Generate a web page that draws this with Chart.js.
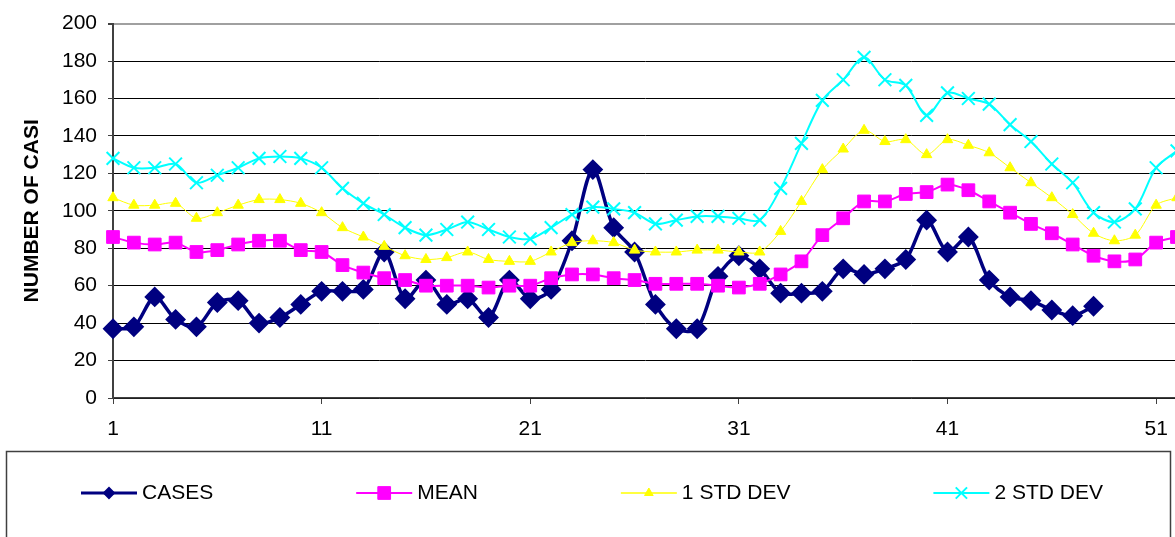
<!DOCTYPE html>
<html>
<head>
<meta charset="utf-8">
<script src="https://cdn.jsdelivr.net/npm/chart.js@4"></script>
<style>
  html, body { margin: 0; padding: 0; background: #fff; overflow: hidden; }
  canvas { display: block; }
</style>
</head>
<body>
<canvas id="myChart" width="1190" height="537"></canvas>
<script>
const weeks = ['1','2','3','4','5','6','7','8','9','10','11','12','13','14','15','16','17','18','19','20',
  '21','22','23','24','25','26','27','28','29','30','31','32','33','34','35','36','37','38','39','40',
  '41','42','43','44','45','46','47','48','49','50','51','52'];
const cases = [37,38,54,42,38,51,52,40,43,50,57,57,58,78,53,63,50,53,43,63,53,58,84,122,91,78,50,37,37,65,
  76,69,56,56,57,69,66,69,74,95,78,86,63,54,52,47,44,49,null,null,null,null];
const mean = [86,83,82,83,78,79,82,84,84,79,78,71,67,64,63,60,60,60,59,60,60,64,66,66,64,63,61,61,61,60,
  59,61,66,73,87,96,105,105,109,110,114,111,105,99,93,88,82,76,73,74,83,86];
const std1 = [107,103,103,104,96,99,103,106,106,104,99,91,86,81,76,74,75,78,74,73,73,78,83,84,83,79,78,78,79,79,
  78,78,89,105,122,133,143,137,138,130,138,135,131,123,115,107,98,88,84,87,103,107];
const std2 = [128,123,123,125,115,119,123,128,129,128,123,112,104,98,91,87,90,94,90,86,85,91,98,102,101,99,93,95,97,97,
  96,95,112,136,159,170,182,170,167,151,163,160,157,146,137,125,115,99,94,101,123,132];
const yTicks = [0,20,40,60,80,100,120,140,160,180,200];

Chart.defaults.font.family = '"Liberation Sans", Arial, sans-serif';
Chart.defaults.color = '#000';

// legend drawn in a box under the chart, like the spreadsheet one
const boxLegend = {
  id: 'boxLegend',
  afterDraw(chart) {
    const c = chart.ctx;
    c.save();
    c.strokeStyle = '#404040';
    c.lineWidth = 1.5;
    c.strokeRect(6.5, 451.5, 1164, 100);
    c.font = '21px "Liberation Sans", Arial, sans-serif';
    c.textBaseline = 'middle';
    c.fillStyle = '#000';
    const y = 493;
    let x = 81;
    chart.data.datasets.forEach(ds => {
      c.strokeStyle = ds.borderColor;
      c.lineWidth = ds.legendLine;
      c.beginPath();
      c.moveTo(x, y);
      c.lineTo(x + 56, y);
      c.stroke();
      c.fillStyle = ds.pointBackgroundColor;
      c.strokeStyle = ds.pointBorderColor;
      c.lineWidth = ds.pointBorderWidth;
      Chart.helpers.drawPoint(c, {pointStyle: ds.pointStyle, radius: ds.legendRadius, borderWidth: ds.pointBorderWidth}, x + 28, y);
      c.fillStyle = '#000';
      c.fillText(ds.label, x + 61, y);
      x += 61 + c.measureText(ds.label).width + 143;
    });
    c.restore();
  }
};

new Chart(document.getElementById('myChart'), {
  type: 'line',
  data: {
    labels: weeks,
    datasets: [{
      label: 'CASES',
      data: cases,
      borderColor: '#000080',
      borderWidth: 3.5,
      pointStyle: 'rectRot',
      pointRadius: 9,
      pointBackgroundColor: '#000080',
      pointBorderColor: '#000080',
      pointBorderWidth: 2,
      legendRadius: 5,
      legendLine: 3,
      order: 4
    }, {
      label: 'MEAN',
      data: mean,
      borderColor: '#ff00ff',
      borderWidth: 2,
      pointStyle: 'rect',
      pointRadius: 9,
      pointBackgroundColor: '#ff00ff',
      pointBorderColor: '#ff00ff',
      pointBorderWidth: 1,
      legendRadius: 9,
      legendLine: 2,
      order: 3
    }, {
      label: '1 STD DEV',
      data: std1,
      borderColor: '#ffff00',
      borderWidth: 1,
      pointStyle: 'triangle',
      pointRadius: 6,
      pointBackgroundColor: '#ffff00',
      pointBorderColor: '#ffff00',
      pointBorderWidth: 1,
      legendRadius: 5,
      legendLine: 1.5,
      order: 2
    }, {
      label: '2 STD DEV',
      data: std2,
      borderColor: '#00ffff',
      borderWidth: 2,
      pointStyle: 'crossRot',
      pointRadius: 9,
      pointBackgroundColor: '#00ffff',
      pointBorderColor: '#00ffff',
      pointBorderWidth: 2,
      legendRadius: 8,
      legendLine: 2,
      order: 1
    }]
  },
  options: {
    responsive: false,
    animation: false,
    clip: false,
    elements: { line: { tension: 0.3 } },
    layout: { padding: { left: 0, top: 15, right: 11, bottom: 0 } },
    plugins: { legend: { display: false }, tooltip: { enabled: false } },
    scales: {
      x: {
        type: 'category',
        offset: false,
        afterFit: s => { s.height = 139; },
        grid: {
          drawOnChartArea: false,
          tickLength: 6,
          tickColor: c => (c.index % 10 === 0 ? '#404040' : 'rgba(0,0,0,0)')
        },
        border: { color: '#404040', width: 1.5 },
        ticks: {
          autoSkip: false,
          maxRotation: 0,
          padding: 13,
          font: { size: 21 },
          callback: (v, i) => (i % 10 === 0 ? weeks[i] : '')
        }
      },
      y: {
        min: 0,
        max: 200,
        afterFit: s => { s.width = 113; },
        afterBuildTicks: s => { s.ticks = yTicks.map(v => ({ value: v })); },
        grid: {
          color: c => (c.tick && c.tick.value === 200 ? '#a0a0a0' : '#000'),
          lineWidth: c => (c.tick && c.tick.value === 200 ? 2 : 1),
          tickLength: 5,
          tickColor: '#404040'
        },
        border: { color: '#404040', width: 2 },
        ticks: { padding: 11, font: { size: 21 } },
        title: {
          display: true,
          text: 'NUMBER OF CASI',
          font: { size: 21, weight: 'bold' },
          padding: { top: 20, bottom: 0 }
        }
      }
    }
  },
  plugins: [boxLegend]
});
</script>
</body>
</html>
